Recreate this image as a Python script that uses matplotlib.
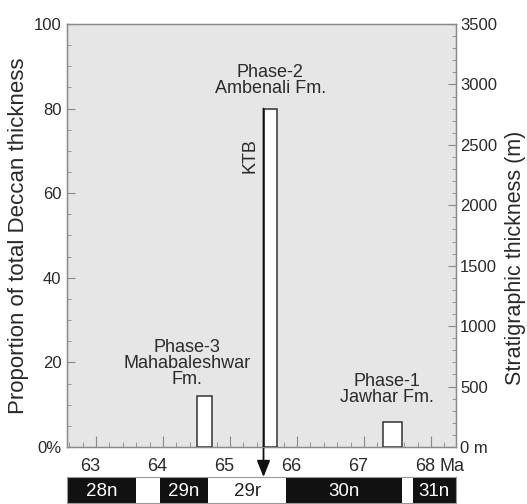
import matplotlib
matplotlib.use("Agg")
import matplotlib.pyplot as plt
from matplotlib.ticker import MultipleLocator, FixedLocator
from matplotlib.transforms import ScaledTranslation

plt.rcParams['font.family'] = ['Liberation Sans', 'DejaVu Sans']

# Deccan eruption phases: age span (Ma) and share of total lava thickness (%)
phase_labels = ['Phase-1\nJawhar Fm.', 'Phase-2\nAmbenali Fm.', 'Phase-3\nMahabaleshwar\nFm.']
phase_start = [67.29, 65.50, 64.51]
phase_end = [67.57, 65.70, 64.73]
phase_percent = [6, 80, 12]

ktb_age = 65.5

# Magnetic polarity chrons (Ma)
chron_labels = ['28n', '29n', '29r', '30n', '31n']
chron_start = [62.3, 63.96, 64.67, 65.84, 67.73]
chron_end = [63.60, 64.67, 65.84, 67.57, 68.6]
chron_normal = [True, True, False, True, True]

age_ticks = [63, 64, 65, 66, 67, 68]
pct_ticks = [0, 20, 40, 60, 80, 100]
pct_ticklabels = ['0%', '20', '40', '60', '80', '100']
m_ticks = [0, 500, 1000, 1500, 2000, 2500, 3000, 3500]
m_ticklabels = ['0 m', '500', '1000', '1500', '2000', '2500', '3000', '3500']

W, H = 527, 504
fig = plt.figure(figsize=(W / 100, H / 100), dpi=100)

L, R, T, B = 67, 456, 24, 447
ax = fig.add_axes([L / W, 1 - B / H, (R - L) / W, (B - T) / H])
ax.set_facecolor('#e6e6e6')
xlim = (62.567, 68.373)
ax.set_xlim(*xlim)
ax.set_ylim(0, 100)

spine_col = '#8a8a8a'
label_col = '#2a2a2a'
for s in ax.spines.values():
    s.set_color(spine_col)
    s.set_linewidth(1.0)

# Bars for each eruption phase
for s0, s1, p in zip(phase_start, phase_end, phase_percent):
    ax.bar(s0, p, width=s1 - s0, align='edge', color='white',
           edgecolor='#333333', linewidth=1.1, zorder=3)

# Phase annotations
text_kw = dict(fontsize=13, ha='center', va='center', linespacing=0.92, color=label_col)
ax.text(67.34, 13.7, phase_labels[0], **text_kw)
ax.text(65.6, 86.6, phase_labels[1], **text_kw)
ax.text(64.36, 19.8, phase_labels[2], **text_kw)

# KTB arrow
trans = ax.get_xaxis_transform()
ax.annotate('', xy=(ktb_age, -0.071), xycoords=trans,
            xytext=(ktb_age, phase_percent[1] / 100), textcoords=trans,
            arrowprops=dict(arrowstyle='-|>,head_length=0.5,head_width=0.2',
                            mutation_scale=20, lw=1.3, color='#111111',
                            shrinkA=0, shrinkB=0),
            annotation_clip=False, zorder=5)
ax.text(65.3, 68.8, 'KTB', rotation=90, fontsize=13, ha='center', va='center',
        color=label_col)

# Left axis
ax.yaxis.set_major_locator(FixedLocator(pct_ticks))
ax.set_yticklabels(pct_ticklabels)
ax.yaxis.set_minor_locator(MultipleLocator(5))
ax.tick_params(axis='y', which='both', direction='in', colors=spine_col,
               labelcolor=label_col, labelsize=12, pad=4)
ax.tick_params(axis='y', which='major', length=6)
ax.tick_params(axis='y', which='minor', length=3.2)
ax.set_ylabel('Proportion of total Deccan thickness', fontsize=16, color=label_col)
ax.yaxis.set_label_coords(-0.098, 0.5)

# Bottom axis
ax.xaxis.set_major_locator(FixedLocator(age_ticks))
ax.set_xticklabels([str(a) for a in age_ticks])
ax.xaxis.set_minor_locator(MultipleLocator(0.2))
ax.tick_params(axis='x', which='both', direction='in', colors=spine_col,
               labelcolor=label_col, labelsize=13, pad=8)
ax.tick_params(axis='x', which='major', length=8)
ax.tick_params(axis='x', which='minor', length=3.5)
shift = ScaledTranslation(-4 / 72, 0, fig.dpi_scale_trans)
for lab in ax.get_xticklabels():
    lab.set_transform(lab.get_transform() + shift)
last = ax.get_xticklabels()[-1]
ax.annotate('Ma', xy=(1, 0), xycoords=last, xytext=(3, 0), textcoords='offset points',
            ha='left', va='bottom', fontsize=13, color=label_col)

# Right axis (thickness in metres)
ax2 = ax.twinx()
ax2.set_ylim(0, 3500)
ax2.yaxis.set_major_locator(FixedLocator(m_ticks))
ax2.set_yticklabels(m_ticklabels)
ax2.yaxis.set_minor_locator(MultipleLocator(100))
ax2.tick_params(axis='y', which='both', direction='in', colors=spine_col,
                labelcolor=label_col, labelsize=12, pad=3)
ax2.tick_params(axis='y', which='major', length=6)
ax2.tick_params(axis='y', which='minor', length=3.2)
for s in ax2.spines.values():
    s.set_color(spine_col)
ax2.set_ylabel('Stratigraphic thickness (m)', fontsize=15.5, color=label_col)
ax2.yaxis.set_label_coords(1.125, 0.447)

# Magnetic polarity band
PT, PB = 477, 503
pax = fig.add_axes([L / W, 1 - PB / H, (R - L) / W, (PB - PT) / H])
pax.set_xlim(*xlim)
pax.set_ylim(0, 1)
pax.set_xticks([])
pax.set_yticks([])
for s in pax.spines.values():
    s.set_color('#9a9a9a')
    s.set_linewidth(0.8)
for name, c0, c1, normal in zip(chron_labels, chron_start, chron_end, chron_normal):
    if normal:
        pax.axvspan(c0, c1, color='#111111', lw=0)
    mid = (max(c0, xlim[0]) + min(c1, xlim[1])) / 2
    pax.text(mid, 0.45, name, ha='center', va='center', fontsize=13.5,
             color='white' if normal else '#222222')

fig.savefig('out.png', dpi=100)
